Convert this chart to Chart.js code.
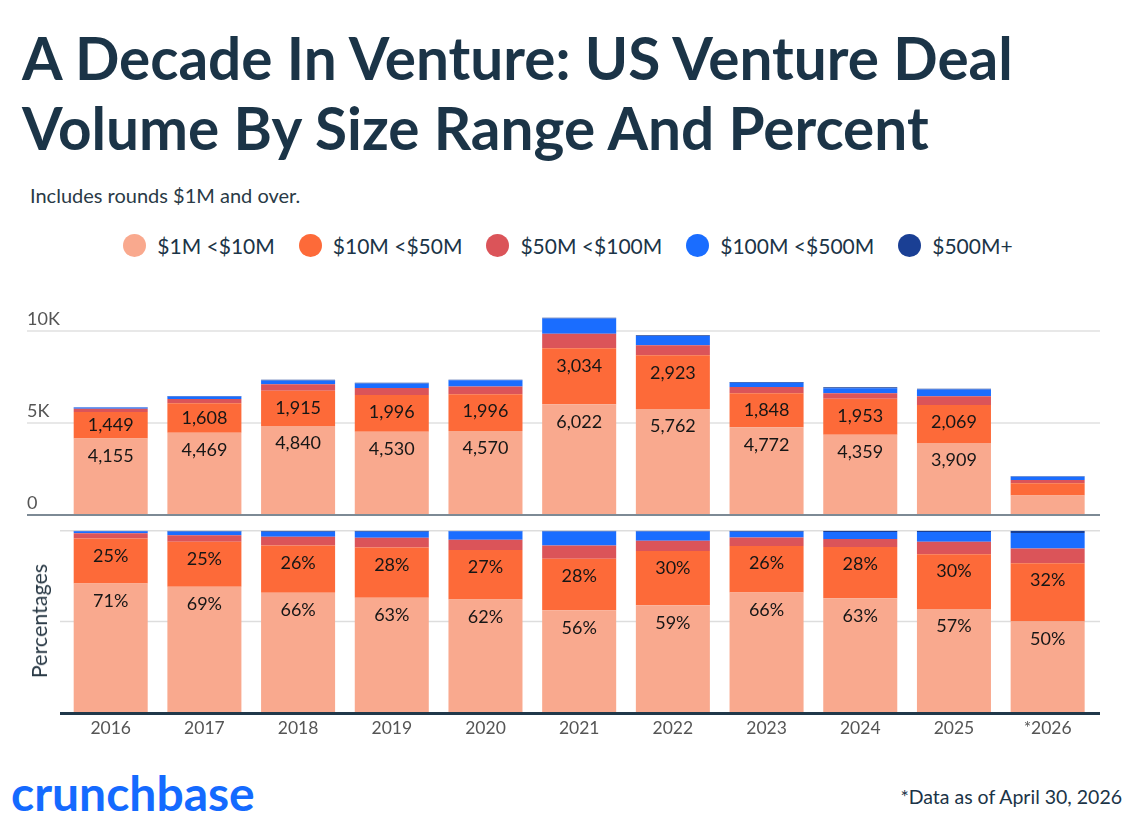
<!DOCTYPE html>
<html>
<head>
<meta charset="utf-8">
<script src="https://cdn.jsdelivr.net/npm/chart.js@4"></script>
<style>
  body { margin: 0; background: #fff; font-family: 'Lato', sans-serif; color: #1b3447; }
  #page { position: relative; width: 1138px; height: 834px; overflow: hidden; }
  #title { position: absolute; left: 22px; top: 22px; margin: 0; font-size: 58.5px; line-height: 70px; font-weight: 700; color: #1b3447; }
  #subtitle { position: absolute; left: 30px; top: 183px; font-size: 20px; color: #2a3a46; }
  #legend { position: absolute; left: 0; width: 1136px; top: 233px; display: flex; justify-content: center; gap: 24px; }
  .item { display: flex; align-items: center; font-size: 21px; color: #1b3447; }
  .dot { width: 23px; height: 23px; border-radius: 50%; margin-right: 11px; }
  .box { position: absolute; left: 0; width: 1138px; }
  #axisTitle { position: absolute; left: 39px; top: 621px; transform: translate(-50%, -50%) rotate(-90deg); font-size: 21.5px; color: #2a3a46; white-space: nowrap; }
  #logo { position: absolute; left: 11px; top: 764px; font-size: 48px; font-weight: 700; color: #146aff; }
  #note { position: absolute; right: 16px; top: 785px; font-size: 19.5px; color: #1b3447; }
</style>
</head>
<body>
<div id="page">
  <h1 id="title">A Decade In Venture: US Venture Deal<br>Volume By Size Range And Percent</h1>
  <div id="subtitle">Includes rounds $1M and over.</div>
  <div id="legend"></div>
  <div class="box" style="top:290px;height:230px"><canvas id="countChart" width="1138" height="230"></canvas></div>
  <div class="box" style="top:520px;height:227px"><canvas id="pctChart" width="1138" height="227"></canvas></div>
  <div id="axisTitle">Percentages</div>
  <div id="logo">crunchbase</div>
  <div id="note">*Data as of April 30, 2026</div>
</div>
<script>
const years = ['2016', '2017', '2018', '2019', '2020', '2021', '2022', '2023', '2024', '2025', '*2026'];
const seriesNames = ['$1M <$10M', '$10M <$50M', '$50M <$100M', '$100M <$500M', '$500M+'];
const seriesColors = ['#f9a98e', '#fd6a39', '#db5459', '#1a6dff', '#1a3f94'];

const deals1to10 = [4155, 4469, 4840, 4530, 4570, 6022, 5762, 4772, 4359, 3909, 1055];
const deals10to50 = [1449, 1608, 1915, 1996, 1996, 3034, 2923, 1848, 1953, 2069, 675];
const deals50to100 = [175, 230, 350, 380, 420, 790, 540, 340, 310, 470, 170];
const deals100to500 = [65, 130, 205, 240, 340, 830, 500, 230, 270, 370, 178];
const deals500plus = [15, 30, 40, 40, 25, 40, 45, 40, 45, 45, 28];

const countTicks = [0, 5000, 10000];
const countTickLabels = ['0', '5K', '10K'];
const pctGrid = [50, 100];

const series = [deals1to10, deals10to50, deals50to100, deals100to500, deals500plus];
const totals = years.map((_, i) => series.reduce((s, arr) => s + arr[i], 0));
const pctSeries = series.map(arr => arr.map((v, i) => v / totals[i] * 100));

// legend
const legendEl = document.getElementById('legend');
seriesNames.forEach((name, i) => {
  const it = document.createElement('div');
  it.className = 'item';
  it.innerHTML = `<span class="dot" style="background:${seriesColors[i]}"></span>${name}`;
  legendEl.appendChild(it);
});

Chart.defaults.font.family = 'Lato';
Chart.defaults.animation = false;

function makeDatasets(dataArr) {
  return dataArr.map((d, i) => ({
    label: seriesNames[i],
    data: d,
    backgroundColor: seriesColors[i],
    borderWidth: 0,
    categoryPercentage: 1,
    barPercentage: 0.79
  }));
}

function drawSegmentLabels(chart, fmt, show) {
  const ctx = chart.ctx;
  ctx.save();
  ctx.font = '18px Lato';
  ctx.fillStyle = '#161616';
  ctx.textAlign = 'center';
  ctx.textBaseline = 'middle';
  [0, 1].forEach(di => {
    const meta = chart.getDatasetMeta(di);
    meta.data.forEach((bar, i) => {
      const v = chart.data.datasets[di].data[i];
      if (!show(di, i)) return;
      const top = Math.min(bar.y, bar.base);
      const bottom = Math.max(bar.y, bar.base);
      const y = Math.min(top + 17.5, (top + bottom) / 2);
      ctx.fillText(fmt(di, i, v), bar.x, y);
    });
  });
  ctx.restore();
}

const countDecor = {
  id: 'countDecor',
  beforeDatasetsDraw(chart) {
    const ctx = chart.ctx;
    const y = chart.scales.y;
    ctx.save();
    ctx.font = '18px Lato';
    ctx.fillStyle = '#555';
    ctx.textBaseline = 'bottom';
    countTicks.forEach((t, k) => {
      const py = y.getPixelForValue(t);
      if (t !== 0) {
        ctx.strokeStyle = '#e8e8e8';
        ctx.lineWidth = 2;
        ctx.beginPath(); ctx.moveTo(27, py); ctx.lineTo(1100, py); ctx.stroke();
      }
      ctx.fillText(countTickLabels[k], 27, py - 3);
    });
    ctx.restore();
  },
  afterDatasetsDraw(chart) {
    const ctx = chart.ctx;
    const py = chart.scales.y.getPixelForValue(0);
    ctx.save();
    ctx.strokeStyle = '#7d8a95';
    ctx.lineWidth = 2;
    ctx.beginPath(); ctx.moveTo(27, py); ctx.lineTo(1100, py); ctx.stroke();
    ctx.restore();
    drawSegmentLabels(chart, (di, i, v) => v.toLocaleString('en-US'), (di, i) => series[di][i] >= 1200);
  }
};

const pctDecor = {
  id: 'pctDecor',
  beforeDatasetsDraw(chart) {
    const ctx = chart.ctx;
    const y = chart.scales.y;
    ctx.save();
    ctx.strokeStyle = '#dddddd';
    ctx.lineWidth = 1.5;
    pctGrid.forEach(t => {
      const py = y.getPixelForValue(t);
      ctx.beginPath(); ctx.moveTo(60, py); ctx.lineTo(1100, py); ctx.stroke();
    });
    ctx.restore();
  },
  afterDatasetsDraw(chart) {
    const ctx = chart.ctx;
    const py = chart.scales.y.getPixelForValue(0);
    ctx.save();
    ctx.strokeStyle = '#20384a';
    ctx.lineWidth = 3;
    ctx.beginPath(); ctx.moveTo(60, py + 1); ctx.lineTo(1100, py + 1); ctx.stroke();
    ctx.restore();
    drawSegmentLabels(chart, (di, i, v) => Math.round(v) + '%', () => true);
  }
};

new Chart(document.getElementById('countChart'), {
  type: 'bar',
  data: { labels: years, datasets: makeDatasets(series) },
  options: {
    responsive: false,
    layout: { padding: { left: 63.85, right: 43.5, top: 22.6, bottom: 5 } },
    plugins: { legend: { display: false }, tooltip: { enabled: false } },
    scales: {
      x: { stacked: true, display: false },
      y: { stacked: true, display: false, min: 0, max: 11000 }
    }
  },
  plugins: [countDecor]
});

new Chart(document.getElementById('pctChart'), {
  type: 'bar',
  data: { labels: years, datasets: makeDatasets(pctSeries) },
  options: {
    responsive: false,
    layout: { padding: { left: 63.85, right: 43.5, top: 10.7, bottom: 11.6 } },
    plugins: { legend: { display: false }, tooltip: { enabled: false } },
    scales: {
      x: {
        stacked: true,
        grid: { display: false },
        border: { display: false },
        ticks: { color: '#555', font: { size: 17.5 }, padding: -3, maxRotation: 0 }
      },
      y: { stacked: true, display: false, min: 0, max: 100 }
    }
  },
  plugins: [pctDecor]
});
</script>
</body>
</html>
